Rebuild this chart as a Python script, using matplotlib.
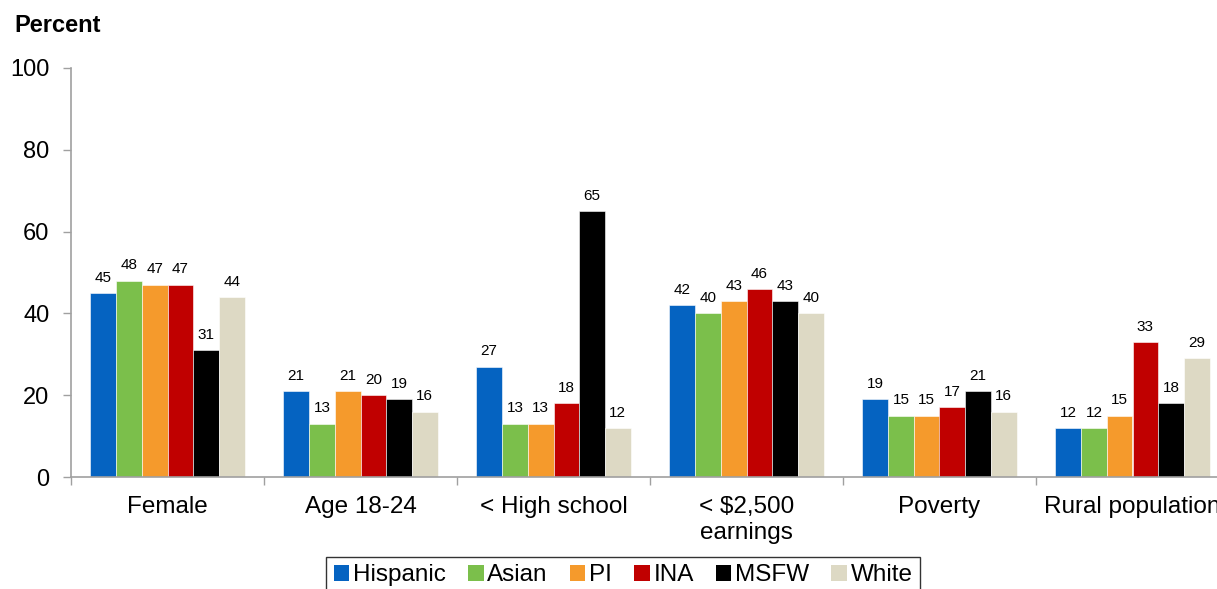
import numpy as np
import matplotlib.pyplot as plt
from matplotlib.patches import Patch

plt.rcParams['font.family'] = ['Liberation Sans', 'DejaVu Sans']

categories = ['Female', 'Age 18-24', '< High school', '< \\$2,500\nearnings', 'Poverty', 'Rural population']
groups = ['Hispanic', 'Asian', 'PI', 'INA', 'MSFW', 'White']
values = {
    'Hispanic': [45, 21, 27, 42, 19, 12],
    'Asian':    [48, 13, 13, 40, 15, 12],
    'PI':       [47, 21, 13, 43, 15, 15],
    'INA':      [47, 20, 18, 46, 17, 33],
    'MSFW':     [31, 19, 65, 43, 21, 18],
    'White':    [44, 16, 12, 40, 16, 29],
}
colors = ['#0563C1', '#7BBF4B', '#F59A2C', '#C00000', '#000000', '#DDD9C4']

fig = plt.figure(figsize=(12.17, 5.89), dpi=100)
# axes runs past the right edge, so the last label is cut like the original slide
ax = fig.add_axes([71 / 1217, 112 / 589, 1158 / 1217, 409 / 589])

x = np.arange(len(categories))
n = len(groups)
w = 0.8 / n
for i, (g, c) in enumerate(zip(groups, colors)):
    pos = x - 0.4 + w * (i + 0.5)
    ax.bar(pos, values[g], width=w, color=c, edgecolor='white', linewidth=0.4)
    for px, v in zip(pos, values[g]):
        ax.annotate(f'{v}', (px, v), xytext=(0, 6), textcoords='offset points',
                    ha='center', va='bottom', fontsize=11)

ax.set_xlim(-0.5, len(categories) - 0.5)
ax.set_ylim(0, 100)
ax.set_yticks(range(0, 101, 20))
ax.tick_params(axis='y', labelsize=17, length=6, width=1, color='#A0A0A0', pad=9.5)

ax.set_xticks(x)
ax.set_xticklabels(categories, fontsize=17.5, linespacing=1.2)
ax.tick_params(axis='x', which='major', length=0, pad=14)
ax.set_xticks(np.arange(-0.5, len(categories), 1.0), minor=True)
ax.tick_params(axis='x', which='minor', length=6, width=1, color='#A0A0A0')

for side in ['top', 'right']:
    ax.spines[side].set_visible(False)
for side in ['left', 'bottom']:
    ax.spines[side].set_color('#A0A0A0')
    ax.spines[side].set_linewidth(1.2)

fig.text(14 / 1217, 1 - 26 / 589, 'Percent', fontsize=17, fontweight='bold', va='center')

handles = [Patch(facecolor=c, edgecolor='none') for c in colors]
leg = fig.legend(handles, groups, loc='upper center', bbox_to_anchor=(623 / 1217, 1 - 557 / 589),
                 ncol=n, frameon=True, fontsize=17.5, handlelength=0.65, handleheight=0.65,
                 handletextpad=0.15, columnspacing=0.9, borderpad=0.3, fancybox=False,
                 borderaxespad=0)
leg.get_frame().set_edgecolor('black')
leg.get_frame().set_linewidth(1.0)

fig.savefig('out.png', dpi=100)
